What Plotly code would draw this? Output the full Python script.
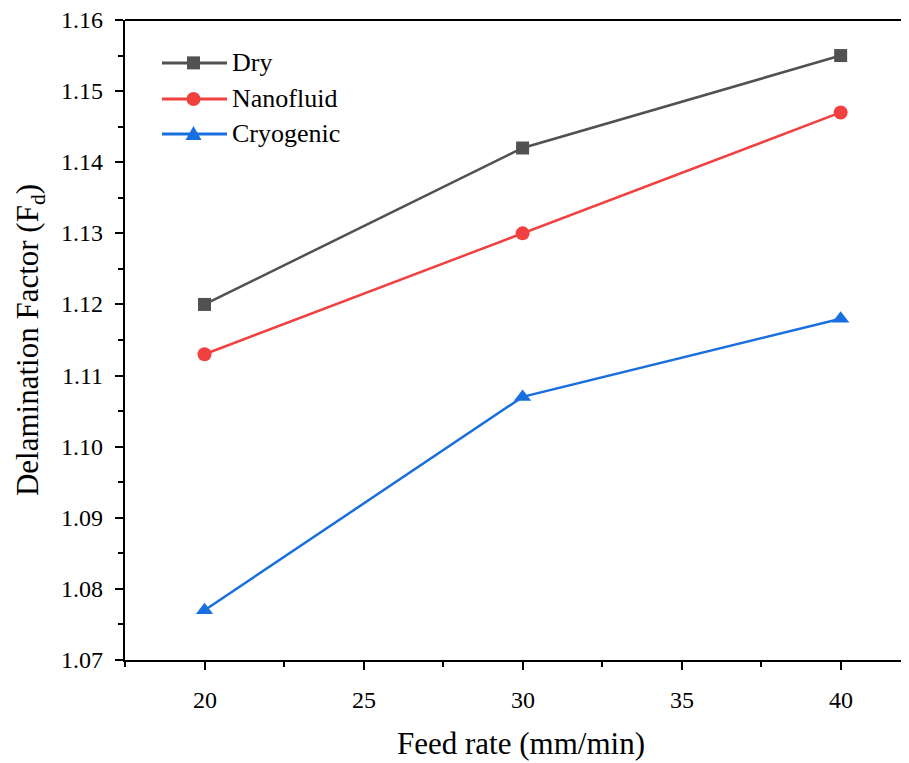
import plotly.graph_objects as go

# ---- data ----
feed_rate = [20, 30, 40]
dry = [1.120, 1.142, 1.155]
nanofluid = [1.113, 1.130, 1.147]
cryogenic = [1.077, 1.107, 1.118]

x_ticks = [20, 25, 30, 35, 40]
x_minor = [17.5, 22.5, 27.5, 32.5, 37.5]
y_ticks = [1.07, 1.08, 1.09, 1.10, 1.11, 1.12, 1.13, 1.14, 1.15, 1.16]
y_tick_labels = ["1.07", "1.08", "1.09", "1.10", "1.11", "1.12", "1.13", "1.14", "1.15", "1.16"]
y_minor = [1.075, 1.085, 1.095, 1.105, 1.115, 1.125, 1.135, 1.145, 1.155]

series_names = ["Dry", "Nanofluid", "Cryogenic"]
series_values = [dry, nanofluid, cryogenic]
series_colors = ["#515151", "#F14040", "#1A6FDF"]
series_symbols = ["square", "circle", "triangle-up"]
series_sizes = [13, 14, 15]

FF = "Liberation Serif, Times New Roman, serif"

fig = go.Figure()
for name, vals, color, sym, size in zip(series_names, series_values, series_colors,
                                         series_symbols, series_sizes):
    fig.add_trace(go.Scatter(
        x=feed_rate, y=vals, name=name, mode="lines+markers",
        line=dict(color=color, width=2.5),
        marker=dict(symbol=sym, size=size, color=color),
        showlegend=False,
    ))

annotations = []
# x tick labels (placed on the x axis scale)
for v in x_ticks:
    annotations.append(dict(text=str(v), x=v, xref="x", y=0, yref="paper",
                            yanchor="middle", xanchor="center", yshift=-40,
                            showarrow=False, font=dict(size=24, family=FF, color="black")))
# y tick labels (placed on the y axis scale)
for v, lab in zip(y_ticks, y_tick_labels):
    annotations.append(dict(text=lab, x=0, xref="paper", y=v, yref="y",
                            xanchor="right", yanchor="middle", xshift=-20,
                            showarrow=False, font=dict(size=24, family=FF, color="black")))

# legend (drawn manually)
leg_rows = [0.933, 0.8766, 0.8219]
leg_x0, leg_x1, leg_mx, leg_tx = 0.0467, 0.1288, 0.0865, 0.1325
shapes = [dict(type="line", xref="paper", yref="paper", x0=0, x1=1, y0=1, y1=1,
               line=dict(color="black", width=2))]
for name, color, sym, ry in zip(series_names, series_colors, series_symbols, leg_rows):
    shapes.append(dict(type="line", xref="paper", yref="paper", x0=leg_x0, x1=leg_x1,
                       y0=ry, y1=ry, line=dict(color=color, width=3)))
    common = dict(xref="paper", yref="paper", xsizemode="pixel", ysizemode="pixel",
                  xanchor=leg_mx, yanchor=ry, fillcolor=color, line=dict(width=0))
    if sym == "square":
        shapes.append(dict(type="rect", x0=-6.5, x1=6.5, y0=-6.5, y1=6.5, **common))
    elif sym == "circle":
        shapes.append(dict(type="circle", x0=-7, x1=7, y0=-7, y1=7, **common))
    else:
        shapes.append(dict(type="path", path="M -8,-6 L 8,-6 L 0,8 Z", **common))
    annotations.append(dict(text=name, x=leg_tx, xref="paper", y=ry, yref="paper",
                            xanchor="left", yanchor="middle", showarrow=False,
                            font=dict(size=26, family=FF, color="black")))

fig.update_layout(
    width=909, height=763,
    margin=dict(l=117, r=0, t=12, b=111, autoexpand=False),
    plot_bgcolor="white", paper_bgcolor="white",
    font=dict(family=FF, color="black", size=23),
    showlegend=False,
    xaxis=dict(
        range=[17.5, 42.4], tickmode="array", tickvals=x_ticks, showticklabels=False,
        ticks="outside", ticklen=8, tickwidth=2, tickcolor="black",
        showline=True, linewidth=2, linecolor="black", showgrid=False, zeroline=False,
        minor=dict(tickmode="array", tickvals=x_minor,
                   ticks="outside", ticklen=5, tickwidth=2, tickcolor="black", showgrid=False),
        title=dict(text="Feed rate (mm/min)", font=dict(size=31, family=FF, color="black"), standoff=63),
    ),
    yaxis=dict(
        range=[1.07, 1.16], tickmode="array", tickvals=y_ticks, showticklabels=False,
        ticks="outside", ticklen=8, tickwidth=2, tickcolor="black",
        showline=True, linewidth=2, linecolor="black", showgrid=False, zeroline=False,
        minor=dict(tickmode="array", tickvals=y_minor,
                   ticks="outside", ticklen=5, tickwidth=2, tickcolor="black", showgrid=False),
        title=dict(text="Delamination Factor (F<sub>d</sub>)", font=dict(size=31, family=FF, color="black"), standoff=67),
    ),
    shapes=shapes,
    annotations=annotations,
)

fig.write_html("out.html")
